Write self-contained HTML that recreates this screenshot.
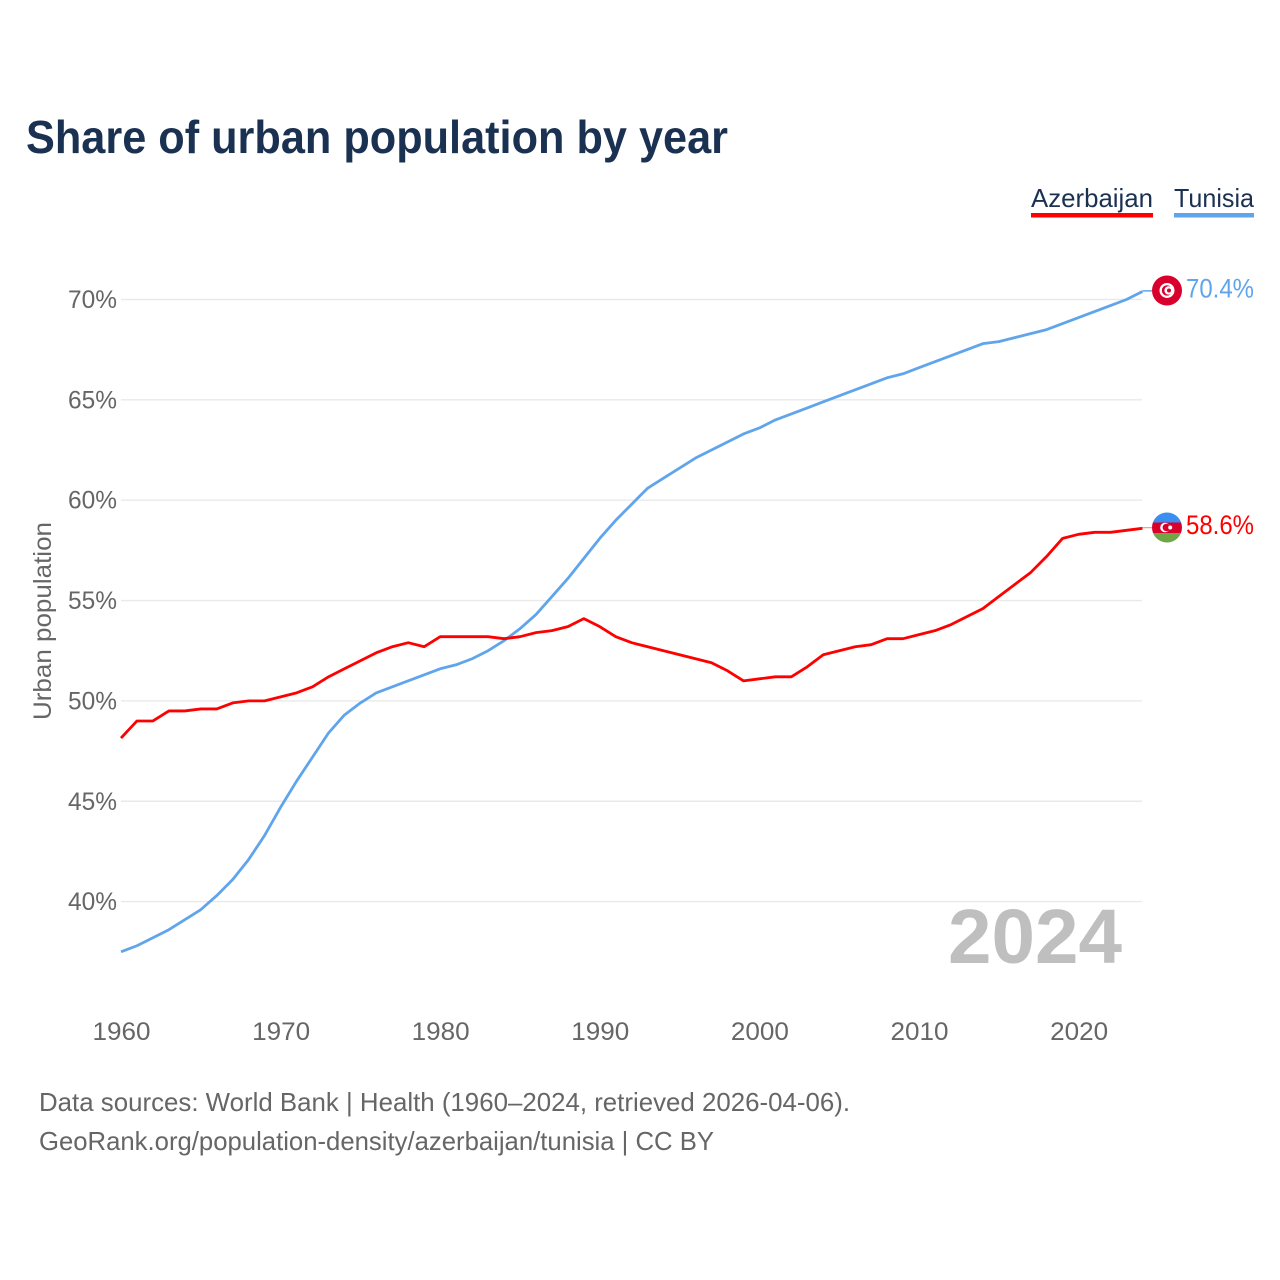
<!DOCTYPE html>
<html lang="en">
<head>
<meta charset="utf-8">
<title>Share of urban population by year</title>
<style>
html,body{margin:0;padding:0;background:#fff;width:1280px;height:1280px;overflow:hidden}
svg{display:block}
text{font-family:"Liberation Sans",sans-serif}
</style>
</head>
<body>
<svg id="chart" width="1280" height="1280" viewBox="0 0 1280 1280" xmlns="http://www.w3.org/2000/svg">
  <rect width="1280" height="1280" fill="#fff"/>
  <text x="26" y="153" font-size="46" font-weight="700" fill="#1a3152" textLength="702" lengthAdjust="spacingAndGlyphs">Share of urban population by year</text>

  <g>
    <text x="1031" y="207" font-size="26" fill="#1a3152" textLength="122" lengthAdjust="spacingAndGlyphs">Azerbaijan</text>
    <rect x="1031" y="213" width="122" height="4.5" fill="#ff0000"/>
  </g>
  <g>
    <text x="1174" y="207" font-size="26" fill="#1a3152" textLength="80" lengthAdjust="spacingAndGlyphs">Tunisia</text>
    <rect x="1174" y="213" width="80" height="4.5" fill="#60a5eb"/>
  </g>

  <g id="grid"></g>
  <g id="yticks"></g>
  <g id="xticks"></g>

  <text transform="translate(51,621) rotate(-90)" text-anchor="middle" font-size="25" fill="#666" textLength="198" lengthAdjust="spacingAndGlyphs">Urban population</text>

  <text x="948" y="963" font-size="77" font-weight="700" fill="#bfbfbf" textLength="174" lengthAdjust="spacingAndGlyphs">2024</text>

  <g id="series"></g>

  <defs>
    <clipPath id="clip-az"><circle id="clip-az-circle" r="15"/></clipPath>
  </defs>

  <g id="flag-tn">
    <circle r="15" fill="#d9002d"/>
    <circle r="7.5" fill="#fff"/>
    <circle r="5.2" fill="#d9002d"/>
    <circle cx="1.6" r="4.2" fill="#fff"/>
    <circle cx="2" r="2" fill="#d9002d"/>
  </g>
  <g id="flag-az">
    <rect x="-15" y="-15" width="30" height="10" fill="#3a8eef"/>
    <rect x="-15" y="-5" width="30" height="10.5" fill="#d9002d"/>
    <rect x="-15" y="5.5" width="30" height="10" fill="#70a545"/>
    <circle cx="-2" r="4.8" fill="#fff"/>
    <circle cx="-0.6" r="3.8" fill="#d9002d"/>
    <circle cx="3.2" r="2" fill="#fff"/>
  </g>

  <text id="value-tn" x="1186" font-size="27" fill="#60a5eb" textLength="68" lengthAdjust="spacingAndGlyphs"></text>
  <text id="value-az" x="1186" font-size="27" fill="#ff0000" textLength="68" lengthAdjust="spacingAndGlyphs"></text>

  <text x="39" y="1111" font-size="26" fill="#666" textLength="811" lengthAdjust="spacingAndGlyphs">Data sources: World Bank | Health (1960–2024, retrieved 2026-04-06).</text>
  <text x="39" y="1150" font-size="26" fill="#666" textLength="675" lengthAdjust="spacingAndGlyphs">GeoRank.org/population-density/azerbaijan/tunisia | CC BY</text>
</svg>
<script>
var startYear = 1960;
var azerbaijan = [48.15,49.0,49.0,49.5,49.5,49.6,49.6,49.9,50.0,50.0,50.2,50.4,50.7,51.2,51.6,52.0,52.4,52.7,52.9,52.7,53.2,53.2,53.2,53.2,53.1,53.2,53.4,53.5,53.7,54.1,53.7,53.2,52.9,52.7,52.5,52.3,52.1,51.9,51.5,51.0,51.1,51.2,51.2,51.7,52.3,52.5,52.7,52.8,53.1,53.1,53.3,53.5,53.8,54.2,54.6,55.2,55.8,56.4,57.2,58.1,58.3,58.4,58.4,58.5,58.6];
var tunisia = [37.5,37.8,38.2,38.6,39.1,39.6,40.3,41.1,42.1,43.3,44.7,46.0,47.2,48.4,49.3,49.9,50.4,50.7,51.0,51.3,51.6,51.8,52.1,52.5,53.0,53.6,54.3,55.2,56.1,57.1,58.1,59.0,59.8,60.6,61.1,61.6,62.1,62.5,62.9,63.3,63.6,64.0,64.3,64.6,64.9,65.2,65.5,65.8,66.1,66.3,66.6,66.9,67.2,67.5,67.8,67.9,68.1,68.3,68.5,68.8,69.1,69.4,69.7,70.0,70.4];
var yTicks = [40,45,50,55,60,65,70];
var xTicks = [1960,1970,1980,1990,2000,2010,2020];

var NS = 'http://www.w3.org/2000/svg';
function xScale(year){ return 121 + (year - 1960) * 15.96; }
function yScale(v){ return 299.5 + (70 - v) * 20.07; }

function make(tag, attrs, parent){
  var el = document.createElementNS(NS, tag);
  for (var k in attrs) el.setAttribute(k, attrs[k]);
  parent.appendChild(el);
  return el;
}

var grid = document.getElementById('grid');
var yG = document.getElementById('yticks');
var xG = document.getElementById('xticks');

yTicks.forEach(function(t){
  var line = make('line', {x1:121, x2:1142, y1:yScale(t), y2:yScale(t), stroke:'#e9e9e9', 'stroke-width':1.4}, grid);
  
  
  var label = make('text', {x:117, y:yScale(t) + 8.5, 'text-anchor':'end', 'font-size':25, fill:'#666', textLength:49, lengthAdjust:'spacingAndGlyphs'}, yG);
  label.textContent = t + '%';
  
  
});

xTicks.forEach(function(t){
  var label = make('text', {x:xScale(t) + 0.5, y:1040, 'text-anchor':'middle', 'font-size':25, fill:'#666', textLength:58, lengthAdjust:'spacingAndGlyphs'}, xG);
  label.textContent = t;
  
  
});

var seriesG = document.getElementById('series');
function pointsFor(vals){
  return vals.map(function(v, i){
    return xScale(startYear + i).toFixed(2) + ',' + yScale(v).toFixed(2);
  }).join(' ');
}
function lastY(vals){ return yScale(vals[vals.length - 1]); }
function lastX(vals){ return xScale(startYear + vals.length - 1); }

var tnLine = make('polyline', {points:pointsFor(tunisia), fill:'none', stroke:'#60a5eb', 'stroke-width':2.8, 'stroke-linejoin':'round'}, seriesG);


var azLine = make('polyline', {points:pointsFor(azerbaijan), fill:'none', stroke:'#ff0000', 'stroke-width':2.8, 'stroke-linejoin':'round'}, seriesG);



var tnLead = make('line', {x1:lastX(tunisia), x2:1153, y1:lastY(tunisia) - 0.6, y2:lastY(tunisia) - 0.6, stroke:'#60a5eb', 'stroke-width':1.5}, seriesG);


var azLead = make('line', {x1:lastX(azerbaijan), x2:1153, y1:lastY(azerbaijan) - 0.6, y2:lastY(azerbaijan) - 0.6, stroke:'#ff8080', 'stroke-width':1}, seriesG);



var flagX = 1167;
document.getElementById('flag-tn').setAttribute('transform', 'translate(' + flagX + ',' + (lastY(tunisia) - 1) + ')');
document.getElementById('flag-az').setAttribute('transform', 'translate(' + flagX + ',' + (lastY(azerbaijan) - 0.8) + ')');
document.getElementById('flag-az').setAttribute('clip-path', 'url(#clip-az)');

var vt = document.getElementById('value-tn');
vt.setAttribute('y', lastY(tunisia) + 6);
vt.textContent = tunisia[tunisia.length - 1].toFixed(1) + '%';
var va = document.getElementById('value-az');
va.setAttribute('y', lastY(azerbaijan) + 5.5);
va.textContent = azerbaijan[azerbaijan.length - 1].toFixed(1) + '%';
</script>
</body>
</html>
